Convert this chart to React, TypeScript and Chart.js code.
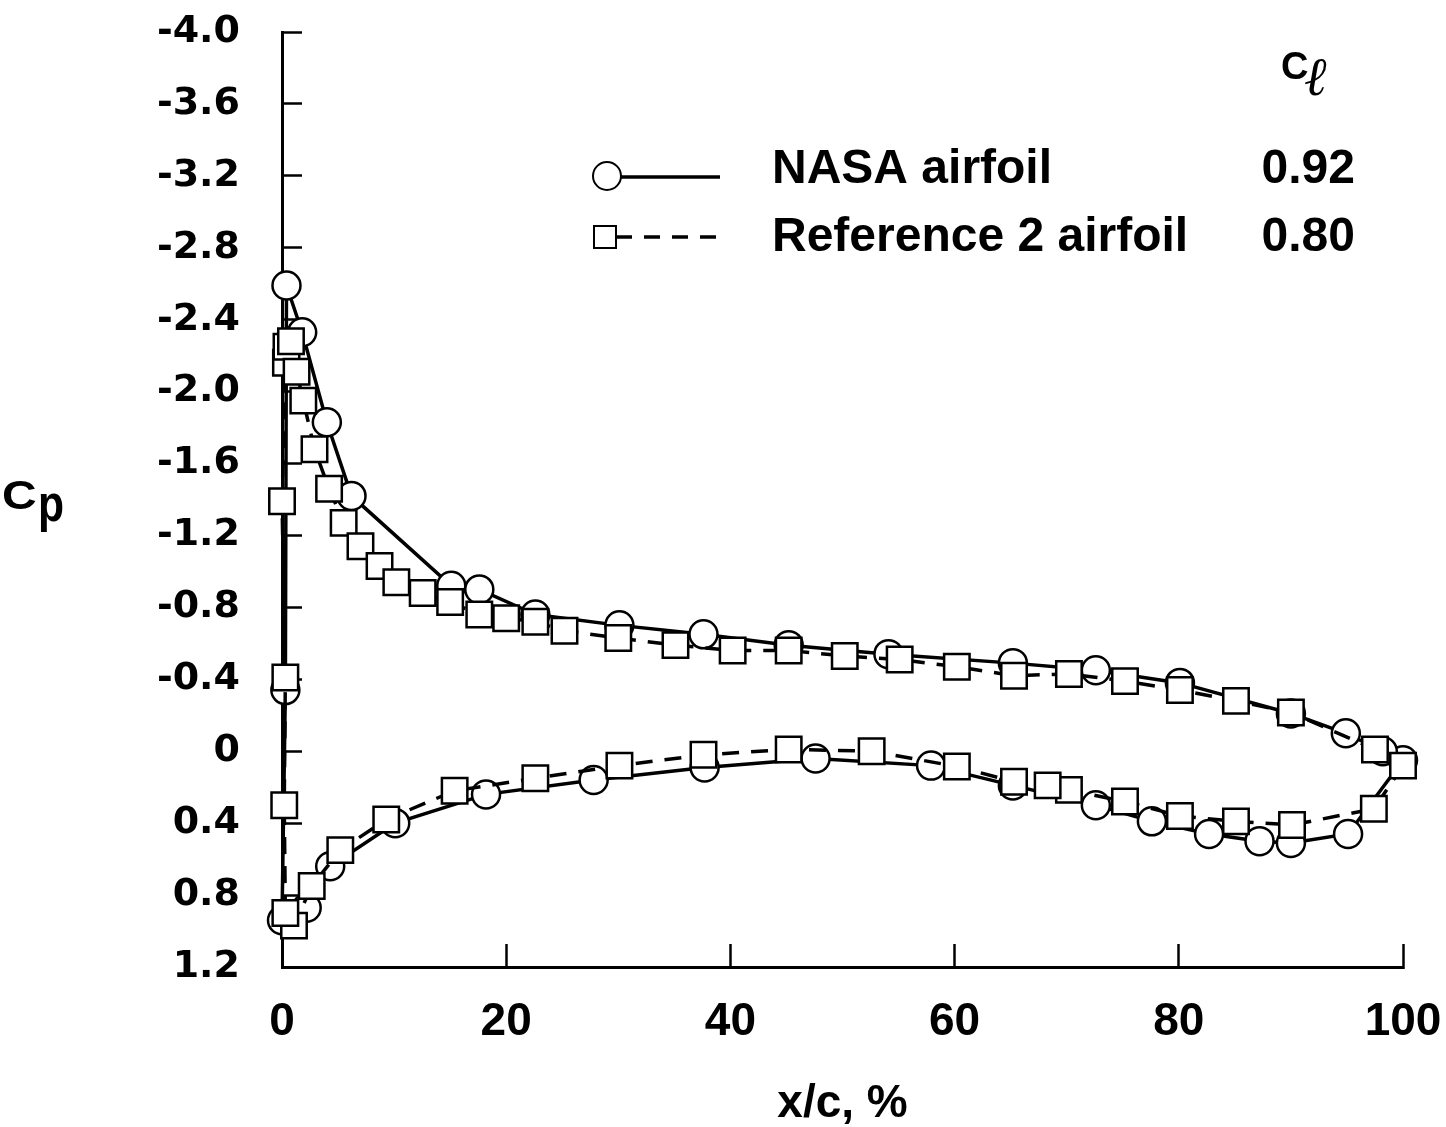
import React, { useEffect, useRef } from 'react';
import { Chart, registerables } from 'chart.js';

Chart.register(...registerables);

// NASA airfoil: circles, solid line (TE -> lower surface -> LE -> upper surface -> TE)
const nasaX = [100, 95.1, 90.0, 87.2, 82.7, 77.6, 72.6, 65.2, 57.9, 47.6, 37.7, 27.8, 18.2, 10.1, 4.3, 2.2, 0.0,
  0.3, 0.4, 1.8, 4.0, 6.2, 15.1, 17.6, 22.6, 30.1, 37.6, 45.2, 54.1, 65.2, 72.6, 80.1, 90.0, 94.9, 98.2];
const nasaCp = [0.05, 0.46, 0.51, 0.5, 0.46, 0.39, 0.3, 0.19, 0.08, 0.04, 0.09, 0.16, 0.24, 0.4, 0.64, 0.87, 0.94,
  -0.34, -2.59, -2.33, -1.83, -1.42, -0.92, -0.9, -0.76, -0.7, -0.65, -0.59, -0.54, -0.49, -0.45, -0.38, -0.21, -0.1, 0.0];

// Reference 2 airfoil: squares, dashed line
const refX = [100, 97.4, 90.1, 85.1, 80.1, 75.2, 70.2, 68.3, 65.3, 60.2, 52.6, 45.2, 37.6, 30.1, 22.6, 15.4, 9.3, 5.2,
  2.65, 1.07, 0.3, 0.2, 0.3, 0.0, 0.35, 0.4, 0.8, 1.3, 1.9, 2.9, 4.2, 5.5, 7.0, 8.7, 10.2, 12.55, 15.0, 17.6, 20.0,
  22.6, 25.2, 30.0, 35.1, 40.2, 45.2, 50.2, 55.1, 60.2, 65.3, 70.2, 75.2, 80.1, 85.1, 90.0, 97.5];
const refCp = [0.08, 0.32, 0.41, 0.39, 0.36, 0.28, 0.215, 0.19, 0.17, 0.085, 0.0, -0.01, 0.02, 0.08, 0.15, 0.22, 0.38, 0.55,
  0.75, 0.97, 0.9, 0.3, -0.41, -1.39, -2.16, -2.25, -2.28, -2.11, -1.95, -1.68, -1.46, -1.27, -1.14, -1.03, -0.94, -0.88,
  -0.83, -0.76, -0.74, -0.72, -0.67, -0.63, -0.59, -0.56, -0.56, -0.53, -0.51, -0.47, -0.42, -0.43, -0.39, -0.34, -0.28,
  -0.215, -0.01];

const yTickValues = [-4.0, -3.6, -3.2, -2.8, -2.4, -2.0, -1.6, -1.2, -0.8, -0.4, 0, 0.4, 0.8, 1.2];
const xTickValues = [0, 20, 40, 60, 80, 100];

const seriesNames = ['NASA airfoil', 'Reference 2 airfoil'];
const clValues = ['0.92', '0.80'];
const xTitle = 'x/c, %';

const SANS = '"Liberation Sans", Arial, sans-serif';

function zeroPadding(s: any) {
  s.paddingTop = 0;
  s.paddingBottom = 0;
  s.paddingLeft = 0;
  s.paddingRight = 0;
}

export default function App() {
  const canvasRef = useRef<HTMLCanvasElement>(null);

  useEffect(() => {
    const canvas = canvasRef.current;
    if (!canvas) return;

    const overlay = {
      id: 'overlay',
      afterDraw(chart: any) {
        const ctx = chart.ctx as CanvasRenderingContext2D;
        ctx.save();
        ctx.fillStyle = '#000';
        ctx.strokeStyle = '#000';

        // Cp label
        ctx.textAlign = 'left';
        ctx.textBaseline = 'alphabetic';
        ctx.save();
        ctx.translate(2, 509);
        ctx.scale(1.2, 1);
        ctx.font = `bold 40px ${SANS}`;
        ctx.fillText('C', 0, 0);
        ctx.restore();
        ctx.save();
        ctx.translate(38, 521);
        ctx.scale(0.82, 1);
        ctx.font = `bold 52px ${SANS}`;
        ctx.fillText('p', 0, 0);
        ctx.restore();

        // C_l header
        ctx.font = `bold 38px ${SANS}`;
        ctx.fillText('C', 1281, 79);
        ctx.font = `italic 54px "Liberation Serif", "DejaVu Serif", serif`;
        ctx.fillText('\u2113', 1304, 95);

        // legend row 1: NASA
        ctx.lineWidth = 3.5;
        ctx.setLineDash([]);
        ctx.beginPath();
        ctx.moveTo(621, 177);
        ctx.lineTo(720, 177);
        ctx.stroke();
        ctx.beginPath();
        ctx.arc(607, 176, 14, 0, Math.PI * 2);
        ctx.fillStyle = '#fff';
        ctx.fill();
        ctx.lineWidth = 2;
        ctx.stroke();

        // legend row 2: Reference 2
        ctx.lineWidth = 3.5;
        ctx.setLineDash([16, 12]);
        ctx.beginPath();
        ctx.moveTo(616, 237);
        ctx.lineTo(720, 237);
        ctx.stroke();
        ctx.setLineDash([]);
        ctx.lineWidth = 2;
        ctx.fillStyle = '#fff';
        ctx.fillRect(594, 226, 22, 22);
        ctx.strokeRect(594, 226, 22, 22);

        ctx.fillStyle = '#000';
        ctx.font = `bold 48px ${SANS}`;
        ctx.textAlign = 'left';
        ctx.fillText(seriesNames[0], 772, 183);
        ctx.fillText(seriesNames[1], 772, 251);
        ctx.textAlign = 'right';
        ctx.fillText(clValues[0], 1355, 183);
        ctx.fillText(clValues[1], 1355, 251);
        ctx.restore();
      },
    };

    const chart = new Chart(canvas, {
      type: 'scatter',
      data: {
        datasets: [
          {
            label: seriesNames[0],
            data: nasaX.map((x, i) => ({ x, y: nasaCp[i] })),
            showLine: true,
            borderColor: '#000',
            borderWidth: 3.5,
            tension: 0,
            pointStyle: 'circle',
            pointRadius: 14,
            pointBorderWidth: 2.5,
            pointBackgroundColor: '#fff',
            pointBorderColor: '#000',
            clip: false,
            order: 1,
          },
          {
            label: seriesNames[1],
            data: refX.map((x, i) => ({ x, y: refCp[i] })),
            showLine: true,
            borderColor: '#000',
            borderWidth: 3.5,
            borderDash: [17, 12],
            tension: 0,
            pointStyle: 'rect',
            pointRadius: 18,
            pointBorderWidth: 2.5,
            pointBackgroundColor: '#fff',
            pointBorderColor: '#000',
            clip: false,
            order: 0,
          },
        ],
      },
      options: {
        animation: false,
        responsive: true,
        maintainAspectRatio: false,
        events: [],
        layout: { padding: { left: 0, right: 43, top: 32, bottom: 0 } },
        plugins: {
          legend: { display: false },
          tooltip: { enabled: false },
          title: { display: false },
        },
        scales: {
          x: {
            type: 'linear',
            position: 'bottom',
            min: 0,
            max: 100,
            afterFit: (s: any) => {
              s.height = 160;
              zeroPadding(s);
            },
            afterBuildTicks: (s: any) => {
              s.ticks = xTickValues.map((v) => ({ value: v }));
            },
            ticks: {
              color: '#000',
              font: { family: SANS, size: 46, weight: 'bold', lineHeight: 1 },
              padding: 55,
              maxRotation: 0,
              autoSkip: false,
              callback: (v: any) => String(v),
            },
            grid: {
              display: true,
              drawOnChartArea: false,
              drawTicks: true,
              tickLength: -23,
              tickWidth: 2.5,
              tickColor: '#000',
            },
            border: { display: true, color: '#000', width: 3 },
            title: {
              display: true,
              text: xTitle,
              color: '#000',
              font: { family: SANS, size: 46, weight: 'bold', lineHeight: 1 },
              padding: { top: 0, bottom: 0 },
            },
          },
          y: {
            type: 'linear',
            position: 'left',
            min: -4,
            max: 1.2,
            reverse: true,
            afterFit: (s: any) => {
              s.width = 282;
              zeroPadding(s);
            },
            afterBuildTicks: (s: any) => {
              s.ticks = yTickValues.map((v) => ({ value: v }));
            },
            ticks: {
              color: '#000',
              font: { family: '"DejaVu Sans", sans-serif', size: 38, weight: 'bold' },
              padding: 62,
              autoSkip: false,
              callback: (v: any) => (Number(v) === 0 ? '0' : Number(v).toFixed(1)),
            },
            grid: {
              display: true,
              drawOnChartArea: false,
              drawTicks: true,
              tickLength: -20,
              tickWidth: 2.5,
              tickColor: '#000',
            },
            border: { display: true, color: '#000', width: 3 },
          },
        },
      },
      plugins: [overlay],
    } as any);

    return () => chart.destroy();
  }, []);

  return (
    <div style={{ position: 'absolute', left: 0, top: 0, width: '1446px', height: '1127px', background: '#fff' }}>
      <canvas ref={canvasRef} />
    </div>
  );
}
